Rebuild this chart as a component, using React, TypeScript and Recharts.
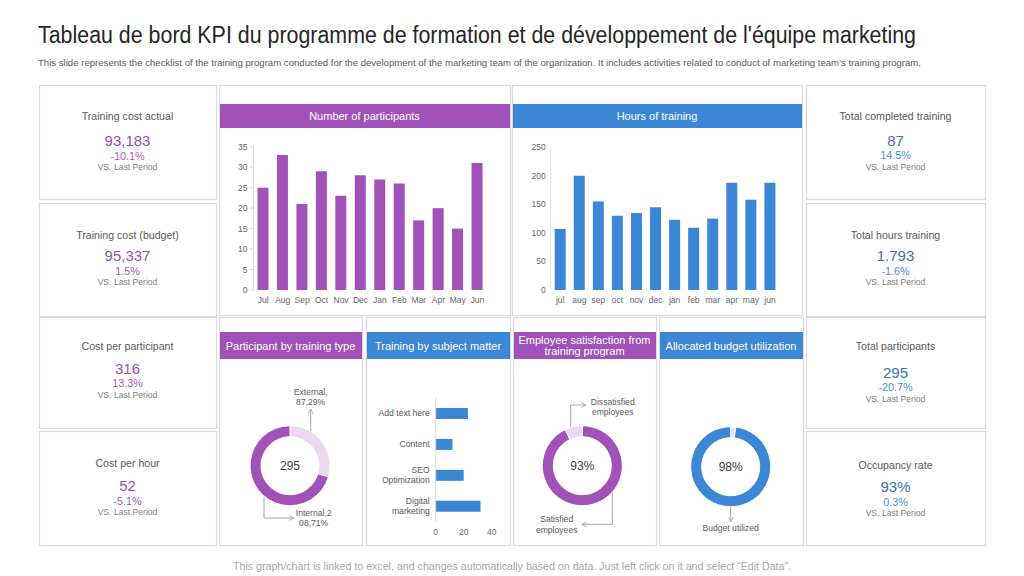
import React from 'react';
import { BarChart, Bar, XAxis, YAxis, PieChart, Pie, Cell } from 'recharts';

// ---- palette & type ----
const PURPLE = '#a052b8';
const PURPLE_LIGHT = '#ead8f1';
const BLUE = '#3b86d5';
const BLUE_LIGHT = '#d9e7f7';
const FONT = "'Liberation Sans', Arial, sans-serif";
const BORDER = '#d9d9d9';

// ---- KPI cards ----
const leftKpiTitles = ['Training cost actual', 'Training cost (budget)', 'Cost per participant', 'Cost per hour'];
const leftKpiValues = ['93,183', '95,337', '316', '52'];
const leftKpiChanges = ['-10.1%', '1.5%', '13.3%', '-5.1%'];

const rightKpiTitles = ['Total completed training', 'Total hours training', 'Total participants', 'Occupancy rate'];
const rightKpiValues = ['87', '1.793', '295', '93%'];
const rightKpiChanges = ['14.5%', '-1.6%', '-20.7%', '0.3%'];

const comparisonLabel = 'VS. Last Period';

// ---- monthly bars ----
const participantMonths = ['Jul', 'Aug', 'Sep', 'Oct', 'Nov', 'Dec', 'Jan', 'Feb', 'Mar', 'Apr', 'May', 'Jun'];
const participantCounts = [25, 33, 21, 29, 23, 28, 27, 26, 17, 20, 15, 31];
const participantTicks = [0, 5, 10, 15, 20, 25, 30, 35];

const hourMonths = ['jul', 'aug', 'sep', 'oct', 'nov', 'dec', 'jan', 'feb', 'mar', 'apr', 'may', 'jun'];
const trainingHours = [107, 200, 155, 130, 135, 145, 123, 109, 125, 188, 158, 188];
const hourTicks = [0, 50, 100, 150, 200, 250];

// ---- subject matter ----
const subjectTopics = ['Add text here', 'Content', 'SEO\nOptimization', 'Digital\nmarketing'];
const subjectCounts = [23, 12, 20, 32];
const subjectTicks = [0, 20, 40];

// ---- donuts ----
const trainingTypes = ['External', 'Internal'];
const trainingTypeCounts = [87, 208];

const satisfactionGroups = ['Satisfied\nemployees', 'Dissatisfied\nemployees'];
const satisfactionShares = [93, 7];

const budgetGroups = ['Budget unused', 'Budget utilized'];
const budgetShares = [2, 98];

// ---- derived rows for the library ----
const participantRows = participantMonths.map((month, i) => ({ month, count: participantCounts[i] }));
const hourRows = hourMonths.map((month, i) => ({ month, hours: trainingHours[i] }));
const subjectRows = subjectTopics.map((topic, i) => ({ topic, count: subjectCounts[i] }));
const typeRows = trainingTypes.map((name, i) => ({ name, value: trainingTypeCounts[i] }));
const satisfactionRows = satisfactionGroups.map((name, i) => ({ name, value: satisfactionShares[i] }));
const budgetRows = budgetGroups.map((name, i) => ({ name, value: budgetShares[i] }));

const typeTotal = trainingTypeCounts.reduce((a, b) => a + b, 0);
const typeLabel = (i: number) =>
  `${trainingTypes[i]},${trainingTypeCounts[i]},${Math.round((trainingTypeCounts[i] / typeTotal) * 100)}%`;
const wrapAt = (s: string, n: number) => [s.slice(0, n), s.slice(n)];

// ---- layout ----
const cardRows = [
  { y: 85, h: 114 },
  { y: 203, h: 113 },
  { y: 317, h: 111 },
  { y: 431, h: 114 },
];
const leftTextOffsets = [
  [31, 55, 70.7, 82.3],
  [32, 52, 67.7, 78.7],
  [28.7, 51.3, 65.7, 78],
  [32.3, 54, 69.7, 81],
];
const rightTextOffsets = [
  [31, 55, 70, 81.7],
  [32, 52, 67.7, 79],
  [28.7, 55.3, 70.3, 82.3],
  [34.3, 55.7, 71, 81.7],
];

type CardProps = {
  x: number;
  w: number;
  row: number;
  title: string;
  value: string;
  change: string;
  offsets: number[];
  valueColor: string;
  changeColor: string;
};

function KpiCard({ x, w, row, title, value, change, offsets, valueColor, changeColor }: CardProps) {
  const { y, h } = cardRows[row];
  const cx = x + w / 2;
  return (
    <g>
      <rect x={x + 0.5} y={y + 0.5} width={w} height={h} fill="#fff" stroke={BORDER} strokeWidth={1.2} />
      <text x={cx} y={y + offsets[0]} textAnchor="middle" dominantBaseline="central" fontSize={10.6} fill="#595959">
        {title}
      </text>
      <text x={cx} y={y + offsets[1]} textAnchor="middle" dominantBaseline="central" fontSize={15} fill={valueColor}>
        {value}
      </text>
      <text x={cx} y={y + offsets[2]} textAnchor="middle" dominantBaseline="central" fontSize={10.8} fill={changeColor}>
        {change}
      </text>
      <text x={cx} y={y + offsets[3]} textAnchor="middle" dominantBaseline="central" fontSize={8.6} fill="#808080">
        {comparisonLabel}
      </text>
    </g>
  );
}

type PanelProps = { x: number; y: number; w: number; h: number; headY: number; headH: number; color: string; lines: string[] };

function Panel({ x, y, w, h, headY, headH, color, lines }: PanelProps) {
  const mid = headY + headH / 2;
  const lh = 11.7;
  return (
    <g>
      <rect x={x + 0.5} y={y + 0.5} width={w} height={h} fill="#fff" stroke={BORDER} strokeWidth={1.2} />
      <rect x={x + 1} y={headY} width={w - 1} height={headH} fill={color} />
      {lines.map((l, i) => (
        <text
          key={l}
          x={x + w / 2}
          y={mid + (i - (lines.length - 1) / 2) * lh}
          textAnchor="middle"
          dominantBaseline="central"
          fontSize={11}
          fill="#fff"
        >
          {l}
        </text>
      ))}
    </g>
  );
}

function Multiline({ x, y, lines, lh = 10.3, size = 8.6, anchor = 'middle' }: { x: number; y: number; lines: string[]; lh?: number; size?: number; anchor?: string }) {
  return (
    <g>
      {lines.map((l, i) => (
        <text key={i} x={x} y={y + i * lh} textAnchor={anchor as any} dominantBaseline="central" fontSize={size} fill="#595959">
          {l}
        </text>
      ))}
    </g>
  );
}

const axisTick = { fontSize: 8.5, fill: '#666', fontFamily: FONT };

function SubjectTick(props: any) {
  const { x, y, payload } = props;
  const lines = String(payload.value).split('\n');
  const lh = 10.3;
  return (
    <g>
      {lines.map((l: string, i: number) => (
        <text
          key={i}
          x={x}
          y={y + (i - (lines.length - 1) / 2) * lh}
          textAnchor="end"
          dominantBaseline="central"
          fontSize={8.6}
          fill="#595959"
          fontFamily={FONT}
        >
          {l}
        </text>
      ))}
    </g>
  );
}

function Donut({ rows, colors, cx, cy, w }: { rows: { name: string; value: number }[]; colors: string[]; cx: number; cy: number; w: number }) {
  return (
    <PieChart width={w} height={185} margin={{ top: 0, right: 0, bottom: 0, left: 0 }}>
      <Pie
        data={rows}
        dataKey="value"
        nameKey="name"
        cx={cx}
        cy={cy}
        innerRadius={29}
        outerRadius={40}
        startAngle={90}
        endAngle={-270}
        stroke="#fff"
        strokeWidth={1}
        isAnimationActive={false}
      >
        {rows.map((r, i) => (
          <Cell key={r.name} fill={colors[i]} />
        ))}
      </Pie>
    </PieChart>
  );
}

export default function App() {
  const abs = (left: number, top: number): React.CSSProperties => ({ position: 'absolute', left, top });
  return (
    <div style={{ position: 'fixed', left: 0, top: 0, width: 1024, height: 576, background: '#fff', fontFamily: FONT, overflow: 'hidden' }}>
      <svg width={1024} height={576} style={{ position: 'absolute', left: 0, top: 0 }} fontFamily={FONT}>
        <defs>
          <marker id="arrow" viewBox="0 0 10 10" refX="9" refY="5" markerWidth="6" markerHeight="6" orient="auto">
            <path d="M1,1 L9,5 L1,9" fill="none" stroke="#a6a6a6" strokeWidth={1.4} />
          </marker>
        </defs>

        <text x={38} y={43} fontSize={23} fill="#262626" textLength={878} lengthAdjust="spacingAndGlyphs">
          Tableau de bord KPI du programme de formation et de développement de l'équipe marketing
        </text>
        <text x={38} y={66} fontSize={8.8} fill="#595959" textLength={883} lengthAdjust="spacingAndGlyphs">
          This slide represents the checklist of the training program conducted for the development of the marketing team of the organization. It includes activities related to conduct of marketing team’s training program.
        </text>

        {leftKpiTitles.map((t, i) => (
          <KpiCard
            key={t}
            x={39}
            w={177}
            row={i}
            title={t}
            value={leftKpiValues[i]}
            change={leftKpiChanges[i]}
            offsets={leftTextOffsets[i]}
            valueColor="#9b4db6"
            changeColor="#a45bc0"
          />
        ))}
        {rightKpiTitles.map((t, i) => (
          <KpiCard
            key={t}
            x={806}
            w={179}
            row={i}
            title={t}
            value={rightKpiValues[i]}
            change={rightKpiChanges[i]}
            offsets={rightTextOffsets[i]}
            valueColor="#3f6db3"
            changeColor="#4a8fdf"
          />
        ))}

        <Panel x={219} y={85} w={291} h={230} headY={104} headH={24} color={PURPLE} lines={['Number of participants']} />
        <Panel x={512} y={85} w={290} h={230} headY={104} headH={24} color={BLUE} lines={['Hours of training']} />

        <Panel x={219} y={317} w={143} h={228} headY={332} headH={27} color={PURPLE} lines={['Participant by training type']} />
        <Panel x={366} y={317} w={144} h={228} headY={332} headH={27} color={BLUE} lines={['Training by subject matter']} />
        <Panel x={513} y={317} w={143} h={228} headY={332} headH={27} color={PURPLE} lines={['Employee satisfaction from', 'training program']} />
        <Panel x={659} y={317} w={144} h={228} headY={332} headH={27} color={BLUE} lines={['Allocated budget utilization']} />

        {/* donut centre figures */}
        <text x={290} y={466} textAnchor="middle" dominantBaseline="central" fontSize={12} fill="#404040">
          {typeTotal}
        </text>
        <text x={582.3} y={466} textAnchor="middle" dominantBaseline="central" fontSize={12} fill="#404040">
          {`${satisfactionShares[0]}%`}
        </text>
        <text x={730.7} y={467} textAnchor="middle" dominantBaseline="central" fontSize={12} fill="#404040">
          {`${budgetShares[1]}%`}
        </text>

        {/* callouts */}
        <g stroke="#a6a6a6" strokeWidth={1} fill="none">
          <path d="M310.7,432 L310.7,409" markerEnd="url(#arrow)" />
          <path d="M264,497 L264,518 L294,518" markerEnd="url(#arrow)" />
          <path d="M570.7,428 L570.7,405 L586,405" markerEnd="url(#arrow)" />
          <path d="M612.3,492 L612.3,524.3 L581.7,524.3" markerEnd="url(#arrow)" />
          <path d="M730.7,507 L730.7,522" markerEnd="url(#arrow)" />
        </g>
        <Multiline x={310.7} y={391.7} lines={wrapAt(typeLabel(0), 9)} />
        <Multiline x={313.7} y={513} lines={wrapAt(typeLabel(1), 10)} />
        <Multiline x={612.7} y={401.7} lines={satisfactionGroups[1].split('\n')} />
        <Multiline x={556.7} y={519.3} lines={satisfactionGroups[0].split('\n')} />
        <Multiline x={730.7} y={528.3} lines={[budgetGroups[1]]} />

        <text x={233} y={570} fontSize={10} fill="#a6a6a6" textLength={558} lengthAdjust="spacingAndGlyphs">
          This graph/chart is linked to excel, and changes automatically based on data. Just left click on it and select “Edit Data”.
        </text>
      </svg>

      {/* Number of participants */}
      <div style={abs(219, 128)}>
        <BarChart width={290} height={187} data={participantRows} margin={{ top: 18.7, right: 22, bottom: 0, left: 0 }}>
          <XAxis dataKey="month" axisLine={false} tickLine={false} tickSize={4} tickMargin={3} height={25} interval={0} tick={axisTick} />
          <YAxis
            domain={[0, 35]}
            ticks={participantTicks}
            width={34.5}
            axisLine={{ stroke: BORDER }}
            tickLine={{ stroke: BORDER }}
            tickSize={4}
            tickMargin={2}
            interval={0}
            tick={axisTick}
          />
          <Bar dataKey="count" fill={PURPLE} barSize={11} isAnimationActive={false} />
        </BarChart>
      </div>

      {/* Hours of training */}
      <div style={abs(512, 128)}>
        <BarChart width={290} height={187} data={hourRows} margin={{ top: 19.3, right: 22.5, bottom: 0, left: 0 }}>
          <XAxis dataKey="month" axisLine={false} tickLine={false} tickSize={4} tickMargin={3} height={25} interval={0} tick={axisTick} />
          <YAxis
            domain={[0, 250]}
            ticks={hourTicks}
            width={38.7}
            axisLine={{ stroke: '#e3e3e3' }}
            tickLine={false}
            tickSize={3}
            tickMargin={2}
            interval={0}
            tick={axisTick}
          />
          <Bar dataKey="hours" fill={BLUE} barSize={11} isAnimationActive={false} />
        </BarChart>
      </div>

      {/* Training by subject matter */}
      <div style={abs(367, 359)}>
        <BarChart width={142} height={186} data={subjectRows} layout="vertical" margin={{ top: 39, right: 17.3, bottom: 0, left: 0 }}>
          <XAxis
            type="number"
            domain={[0, 40]}
            ticks={subjectTicks}
            axisLine={false}
            tickLine={false}
            tickSize={4}
            tickMargin={3}
            height={23.3}
            interval={0}
            tick={axisTick}
          />
          <YAxis
            type="category"
            dataKey="topic"
            width={68.7}
            axisLine={{ stroke: BORDER }}
            tickLine={false}
            tickSize={3}
            tickMargin={3}
            interval={0}
            tick={<SubjectTick />}
          />
          <Bar dataKey="count" fill={BLUE} barSize={11} isAnimationActive={false} />
        </BarChart>
      </div>

      {/* Donuts */}
      <div style={abs(220, 360)}>
        <Donut rows={typeRows} colors={[PURPLE_LIGHT, PURPLE]} cx={70} cy={105.7} w={142} />
      </div>
      <div style={abs(513, 360)}>
        <Donut rows={satisfactionRows} colors={[PURPLE, PURPLE_LIGHT]} cx={69.3} cy={105.7} w={143} />
      </div>
      <div style={abs(659, 360)}>
        <Donut rows={budgetRows} colors={[BLUE_LIGHT, BLUE]} cx={71.7} cy={106.7} w={144} />
      </div>
    </div>
  );
}
